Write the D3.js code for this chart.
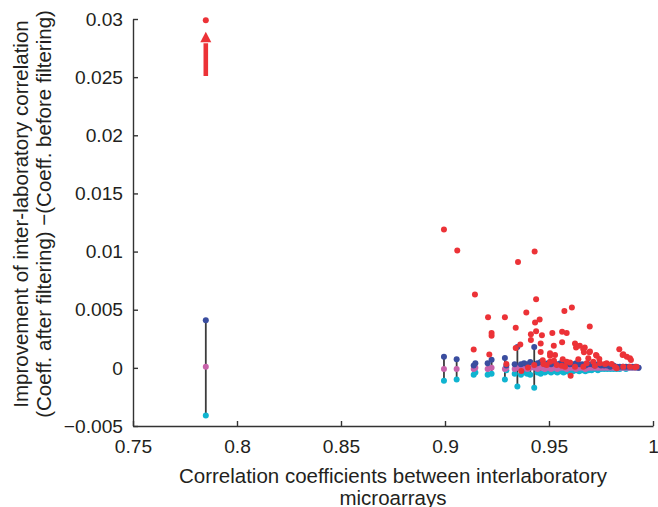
<!DOCTYPE html>
<html>
<head>
<meta charset="utf-8">
<script src="https://cdn.jsdelivr.net/npm/d3@7"></script>
<style>
body { margin: 0; background: #fff; }
svg text { font-family: "Liberation Sans", Arial, Helvetica, sans-serif; fill: #231f20; }
</style>
</head>
<body>
<script>
// correlation before filtering (x) and the change for three filters
var corrX = [0.785, 0.8995, 0.9056, 0.9138, 0.9146, 0.9205, 0.9224, 0.9288, 0.9295, 0.9348, 0.9429,
  0.9335, 0.9365, 0.938, 0.9395, 0.941, 0.9445, 0.946, 0.948, 0.9495, 0.951, 0.9525, 0.954, 0.9555,
  0.957, 0.9585, 0.96, 0.9615, 0.963, 0.9645, 0.966, 0.9675, 0.969, 0.9705, 0.972, 0.9735, 0.975,
  0.9765, 0.978, 0.9795, 0.981, 0.9825, 0.984, 0.9855, 0.987, 0.9885, 0.99, 0.9915, 0.993];
var blueVals = [0.0041, 0.00095, 0.00075, 0.0002, 0.0004, 0.0004, 0.0007, 0.00085, 0.0002, 0.0018, 0.0018,
  0.0003, 0.0003, 0.0004, 0.0003, 0.0005, 0.0004, 0.0005, 0.0003, 0.0004, 0.0003, 0.0004, 0.0003, 0.0004,
  0.0003, 0.0004, 0.0003, 0.0003, 0.0004, 0.0003, 0.0003, 0.0002, 0.0003, 0.0003, 0.0002, 0.0003, 0.0002,
  0.0002, 0.0002, 0.0001, 0.0002, 0.0001, 0.0001, 0.0001, 0.0001, 0.0001, 0.0001, 0.0001, 0.0];
var pinkVals = [0.0001, -0.0001, -0.0001, -0.0001, 0.0, -0.0001, 0.0, -0.0001, 0.0, 0.0, 0.0,
  -0.0001, -0.0001, 0.0, -0.0001, 0.0, -0.0001, 0.0, -0.0001, 0.0, -0.0001, 0.0, -0.0001, 0.0,
  0.0, -0.0001, 0.0, 0.0, -0.0001, 0.0, 0.0, -0.0001, 0.0, 0.0, 0.0, 0.0, 0.0,
  0.0, 0.0, 0.0, 0.0, 0.0, 0.0, 0.0, 0.0, 0.0, 0.0, 0.0, 0.0];
var cyanVals = [-0.0041, -0.0011, -0.001, -0.0006, -0.0004, -0.0006, -0.0005, -0.001, -0.0002, -0.0016, -0.0017,
  -0.0005, -0.0006, -0.0004, -0.0005, -0.0006, -0.0004, -0.0005, -0.0004, -0.0003, -0.0004, -0.0003, -0.0004, -0.0003,
  -0.0004, -0.0003, -0.0004, -0.0003, -0.0002, -0.0003, -0.0002, -0.0003, -0.0002, -0.0002, -0.0001, -0.0002, -0.0001,
  -0.0001, -0.0001, -0.0001, -0.0001, -0.0001, -0.0001, 0.0, -0.0001, 0.0, 0.0, 0.0, 0.0];

// red series
var redX = [0.785, 0.8995, 0.9059, 0.9431, 0.9351, 0.9144, 0.9438, 0.961, 0.9574, 0.9391,
  0.9207, 0.9288, 0.9455, 0.9433, 0.9696, 0.934, 0.9438, 0.9563, 0.9585, 0.9516,
  0.9224, 0.9224, 0.9413, 0.9466, 0.9413, 0.9563, 0.946, 0.9362, 0.934, 0.9138,
  0.9523, 0.9625, 0.963, 0.9648, 0.9672, 0.9668, 0.9694, 0.9729, 0.9742, 0.9838,
  0.9857, 0.9874, 0.9889, 0.9894, 0.946, 0.9529, 0.9213, 0.9505, 0.9295, 0.9367,
  0.9399, 0.9429, 0.947, 0.9473, 0.9505, 0.9566, 0.9561, 0.9577, 0.9601, 0.9604,
  0.9625, 0.9665, 0.9681, 0.9713, 0.9721, 0.9745, 0.9777, 0.9801, 0.9825, 0.9857,
  0.9889, 0.9913, 0.9921, 0.9524, 0.9537, 0.9585, 0.9641, 0.9689, 0.9697, 0.9769,
  0.9665, 0.9726, 0.9505, 0.9489, 0.9817, 0.9854];
var redY = [0.0299, 0.0119, 0.0101, 0.0100, 0.0091, 0.0063, 0.0059, 0.0052, 0.0049, 0.00475,
  0.00435, 0.00435, 0.00415, 0.0039, 0.00355, 0.00345, 0.00315, 0.0031, 0.003, 0.003,
  0.003, 0.00277, 0.0029, 0.0028, 0.0024, 0.0022, 0.0021, 0.002, 0.0017, 0.00157,
  0.0019, 0.0021, 0.00174, 0.0019, 0.00174, 0.00134, 0.00134, 0.00105, 0.00077, 0.0016,
  0.00117, 0.00096, 0.00083, 0.00068, 0.00137, 0.0011, 0.00114, 0.00105, 0.00034, -0.00027,
  0.00002, 0.00025, 0.00065, 0.00034, 0.00053, 0.00074, 0.00019, 0.0001, 0.00045, -0.00067,
  0.0001, 0.0001, 0.0004, 0.00053, 0.00019, 0.0004, 0.0004, 0.00034, -0.00003, 0.0001,
  0.0001, 0.00005, 0.0001, 0.00062, 0.00025, 0.00053, 0.00074, 0.00083, 0.0014, 0.00034,
  0.0016, 0.0011, 0.00126, 0.00025, 0.0001, 0.0011];

// off-scale arrow at the left point
var arrowX = 0.785;
var arrowFrom = 0.0251;
var arrowTo = 0.0289;
var arrowHead = 0.0280;

var xTicks = [0.75, 0.8, 0.85, 0.9, 0.95, 1];
var xTickLabels = ["0.75", "0.8", "0.85", "0.9", "0.95", "1"];
var yTicks = [-0.005, 0, 0.005, 0.01, 0.015, 0.02, 0.025, 0.03];
var yTickLabels = ["\u22120.005", "0", "0.005", "0.01", "0.015", "0.02", "0.025", "0.03"];

let w = 658;
let h = 507;
let margin = {top: 19, right: 5, bottom: 81, left: 133};

var svg = d3.select("body")
  .append("svg")
  .attr("width", w)
  .attr("height", h);

let xScale = d3.scaleLinear()
  .domain([0.75, 1])
  .range([margin.left, w - margin.right]);

let yScale = d3.scaleLinear()
  .domain([-0.005, 0.03])
  .range([h - margin.bottom, margin.top]);

// axes, ticks point inward
let xAxis = d3.axisBottom(xScale)
  .tickValues(xTicks)
  .tickFormat(function(d, i){ return xTickLabels[i]; })
  .tickSizeInner(-5)
  .tickSizeOuter(0)
  .tickPadding(13);

let yAxis = d3.axisLeft(yScale)
  .tickValues(yTicks)
  .tickFormat(function(d, i){ return yTickLabels[i]; })
  .tickSizeInner(-5)
  .tickSizeOuter(0)
  .tickPadding(10);

var gx = svg.append("g")
  .attr("transform", "translate(0," + (h - margin.bottom) + ")")
  .call(xAxis);

var gy = svg.append("g")
  .attr("transform", "translate(" + margin.left + ",0)")
  .call(yAxis);

[gx, gy].forEach(function(g){
  g.selectAll("path, line").attr("stroke", "#333").attr("stroke-width", 1.4);
  g.selectAll("text").attr("font-size", "19.2px").attr("fill", "#231f20")
    .attr("font-family", "'Liberation Sans', Arial, sans-serif");
});

// stems from blue to cyan
svg.append("g")
  .selectAll("line")
  .data(corrX)
  .enter()
  .append("line")
  .attr("x1", function(d){ return xScale(d); })
  .attr("x2", function(d){ return xScale(d); })
  .attr("y1", function(d, i){ return yScale(blueVals[i]); })
  .attr("y2", function(d, i){ return yScale(cyanVals[i]); })
  .attr("stroke", "#3c3c3c")
  .attr("stroke-width", 1.8);

function dots(vals, colour) {
  svg.append("g")
    .selectAll("circle")
    .data(corrX)
    .enter()
    .append("circle")
    .attr("cx", function(d){ return xScale(d); })
    .attr("cy", function(d, i){ return yScale(vals[i]); })
    .attr("r", 3)
    .attr("fill", colour);
}
dots(cyanVals, "#10b4d0");
dots(pinkVals, "#c862aa");
dots(blueVals, "#3a4d9f");

svg.append("g")
  .selectAll("circle")
  .data(redX)
  .enter()
  .append("circle")
  .attr("cx", function(d){ return xScale(d); })
  .attr("cy", function(d, i){ return yScale(redY[i]); })
  .attr("r", 3)
  .attr("fill", "#ec3237");

// arrow
let ax = xScale(arrowX);
svg.append("line")
  .attr("x1", ax).attr("x2", ax)
  .attr("y1", yScale(arrowFrom)).attr("y2", yScale(arrowHead) + 1)
  .attr("stroke", "#ec3237")
  .attr("stroke-width", 4.6);
svg.append("polygon")
  .attr("points", [[ax - 5.5, yScale(arrowHead)], [ax + 5.5, yScale(arrowHead)], [ax, yScale(arrowTo)]]
    .map(function(p){ return p.join(","); }).join(" "))
  .attr("fill", "#ec3237");

// axis titles
var xt = svg.append("text")
  .attr("text-anchor", "middle")
  .attr("font-size", "20.5px");
xt.append("tspan").attr("x", (margin.left + w - margin.right) / 2).attr("y", 483)
  .text("Correlation coefficients between interlaboratory");
xt.append("tspan").attr("x", (margin.left + w - margin.right) / 2).attr("y", 505)
  .text("microarrays");

var yt = svg.append("text")
  .attr("text-anchor", "middle")
  .attr("font-size", "20.5px")
  .attr("transform", "translate(0,214) rotate(-90)");
yt.append("tspan").attr("x", 0).attr("y", 28)
  .text("Improvement of inter-laboratory correlation");
yt.append("tspan").attr("x", 0).attr("y", 51)
  .text("(Coeff. after filtering) \u2212(Coeff. before filtering)");
</script>
</body>
</html>
